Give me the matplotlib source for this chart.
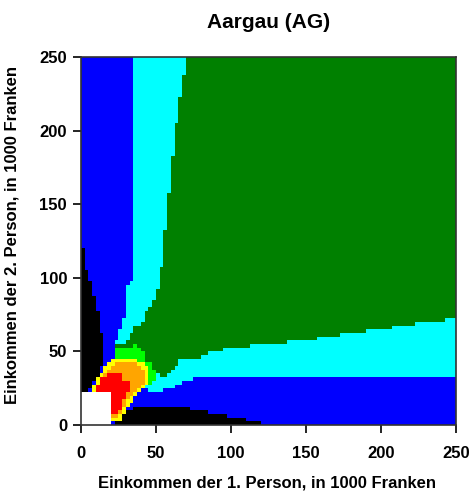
import numpy as np
import matplotlib
matplotlib.use('Agg')
import matplotlib.pyplot as plt
from matplotlib.colors import ListedColormap
from matplotlib.path import Path

plt.rcParams['font.family'] = ['Liberation Sans', 'DejaVu Sans']
plt.rcParams['font.weight'] = 'bold'

title = 'Aargau (AG)'
xlabel = 'Einkommen der 1. Person, in 1000 Franken'
ylabel = 'Einkommen der 2. Person, in 1000 Franken'
ticks = [0, 50, 100, 150, 200, 250]

# region outlines (x, y in 1000 Franken)
# painted in this order over a green background
cyan_region = [(0, 250), (71, 250), (69, 240), (66, 220), (63, 200), (61, 180), (59, 160),
               (57, 140), (55, 120), (53, 100), (51, 90), (49, 85), (46, 80), (43, 77),
               (42, 70), (39, 67), (35, 67), (35, 62), (31.5, 61), (31.5, 56.5), (23, 55),
               (22, 50), (25, 52.5), (33, 52.5), (34, 54), (38, 54), (40, 50), (43, 50),
               (43, 43), (47, 42), (47, 38), (50, 37), (50, 34), (56, 33), (59, 35),
               (63, 38.5), (66, 42), (66, 45), (80, 46), (89, 50), (100, 52), (113, 54),
               (135, 56), (150, 57.5), (178, 62), (206, 66), (231, 70), (250, 72),
               (250, 0), (0, 0)]
blue_region = [(0, 250), (34, 250), (34, 97), (31, 96), (31, 80), (28, 71), (25, 62),
               (23.5, 56), (22, 50), (30, 35), (45, 23), (49, 22), (55, 24), (64, 27),
               (73, 30.5), (80, 32.8), (96, 33.5), (250, 33.5), (250, 0), (0, 0)]
black_left = [(0, 21), (0, 121), (2.5, 120), (3.5, 107), (6, 98), (9.5, 85), (12, 73),
              (14, 62), (15, 52), (14.5, 42), (11.5, 34), (8, 28), (5, 23), (3, 21)]
black_bottom = [(22, 0), (24, 3), (26, 7), (33, 11), (45, 13.5), (52, 13.5), (60, 12.5),
                (74, 11), (86, 8.5), (98, 6), (108, 4), (120, 1.5), (122, 0)]
lime_region = [(22, 50), (25, 52.5), (33, 52.5), (34, 54), (38, 54), (40, 50), (43, 50),
               (43, 43), (47, 42), (47, 38), (50, 37), (50, 32), (46, 28), (42, 25),
               (30, 35), (22, 45)]
yellow_region = [(7, 23), (12, 34), (18, 41), (23, 46), (33, 46), (39, 43), (45, 39),
                 (45, 28), (42, 25.5), (39, 21.5), (35.5, 18), (32, 13.5), (29.5, 8.5),
                 (26.5, 3.5), (21, 3), (21, 22)]
orange_region = [(9, 24), (14, 33), (20, 39.5), (24.5, 43.5), (32, 43.5), (38, 40.5),
                 (43, 37.5), (43, 29), (40, 26.5), (37, 23), (34, 19.5), (30.5, 15.5),
                 (28, 10.5), (25, 5.5), (21, 5), (21, 22)]
red_region = [(10, 22), (10, 27), (13, 31), (18, 34), (21, 35.5), (26, 35.5), (27, 32),
              (31, 29.5), (33, 27), (32, 23), (29, 19), (28, 15), (26, 10), (24, 7),
              (21, 7), (21, 22)]
white_region = [(0, 0), (21, 0), (21, 21.5), (0, 21.5)]

colors = ['#008000', '#00ffff', '#0000ff', '#000000', '#00ff00',
          '#ffff00', '#ffa500', '#ff0000', '#ffffff']
layers = [(1, cyan_region), (2, blue_region), (3, black_left), (3, black_bottom),
          (4, lime_region), (5, yellow_region), (6, orange_region), (7, red_region),
          (8, white_region)]

step = 2.5
edges = np.arange(0, 250 + step, step)
centers = edges[:-1] + step / 2
X, Y = np.meshgrid(centers, centers)
pts = np.column_stack([X.ravel(), Y.ravel()])
grid = np.zeros(X.shape)
for code, poly in layers:
    inside = Path(poly).contains_points(pts).reshape(X.shape)
    grid[inside] = code

fig = plt.figure(figsize=(4.72, 5.0), dpi=100)
ax = fig.add_axes([0.1716, 0.15, 0.7945, 0.736])
ax.pcolormesh(edges, edges, grid, cmap=ListedColormap(colors),
              vmin=-0.5, vmax=len(colors) - 0.5)
ax.set_xlim(0, 250)
ax.set_ylim(0, 250)
ax.set_xticks(ticks)
ax.set_yticks(ticks)
ax.tick_params(axis='both', direction='out', length=6, width=1.2, labelsize=12)
ax.tick_params(axis='x', pad=9)
ax.tick_params(axis='y', pad=4)
for sp in ax.spines.values():
    sp.set_color('#333333')
    sp.set_linewidth(1.2)

fig.text(0.569, 0.955, title, ha='center', va='center', fontsize=15, fontweight='bold')
fig.text(0.566, 0.034, xlabel, ha='center', va='center', fontsize=12, fontweight='bold')
fig.text(0.026, 0.53, ylabel, ha='center', va='center', rotation=90,
         fontsize=12, fontweight='bold')

fig.savefig('out.png', dpi=100)
